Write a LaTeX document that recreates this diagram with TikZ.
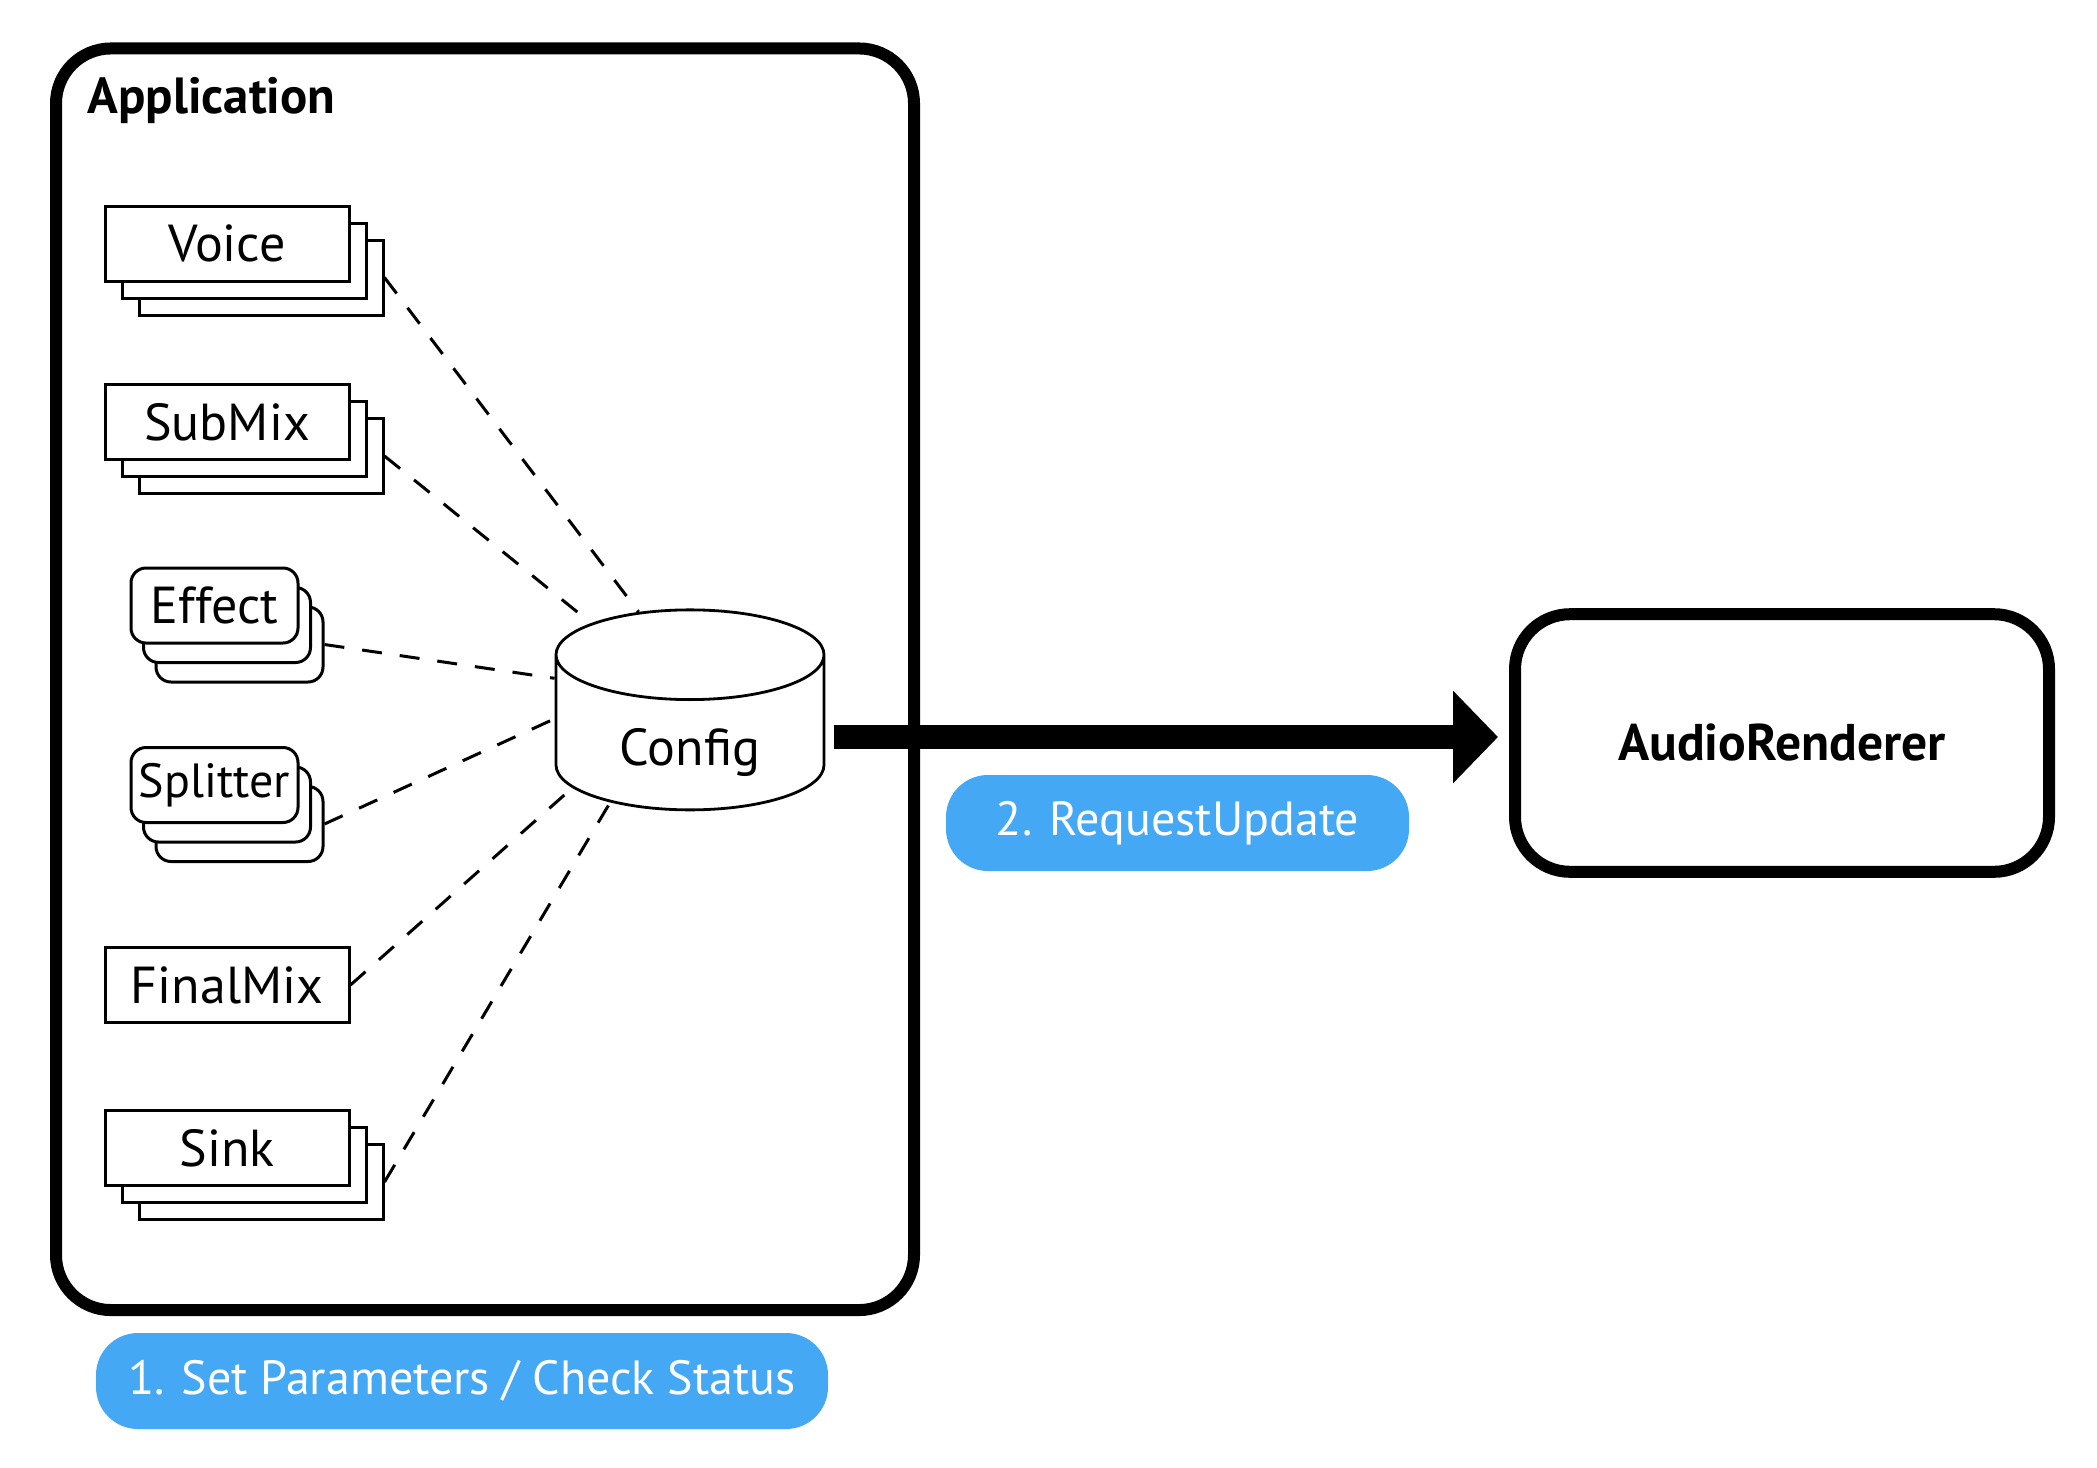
\documentclass[tikz,border=0pt]{standalone}
\usepackage{fontspec}
\setmainfont{PT Sans}
\usepackage{tikz}
\usetikzlibrary{arrows.meta,shapes.geometric}
\definecolor{pillblue}{HTML}{44A8F4}
\tikzset{
  objbox/.style={rectangle,draw,fill=white,line width=0.75pt,minimum width=61pt,minimum height=18.75pt,inner sep=0pt,font=\fontsize{13}{15}\selectfont},
  rndbox/.style={objbox,rounded corners=3.75pt,minimum width=41.75pt},
  pill/.style={rectangle,rounded corners=10.5pt,fill=pillblue,text=white,minimum height=24pt,inner sep=0pt,font=\fontsize{12}{14}\selectfont},
  link/.style={-,line width=0.75pt,dash pattern=on 5pt off 4.5pt},
  bigarrow/.style={-{Triangle[length=11.25pt,width=22.5pt]},line width=6pt},
  bigframe/.style={rectangle,draw,line width=3pt,rounded corners=13.75pt,inner sep=0pt},
}
\begin{document}
\begin{tikzpicture}[x=0.25pt,y=-0.25pt]
% \draw[help lines,step=100] (0,0) grid (2097,1467);
\useasboundingbox (0,0) rectangle (2097,1467);
\node (app) [bigframe,minimum width=214.5pt,minimum height=315.4pt] at (485,679.25) {};
\node (applbl) [anchor=base west,inner sep=0pt,font=\bfseries\fontsize{12.7}{15}\selectfont] at (87,113) {Application};
%
\node (voice3) [objbox] at (261,277.5) {};
\node (voice2) [objbox] at (244,260.5) {};
\node (voice) [objbox] at (227,243.5) {Voice};
\node (sub3) [objbox] at (261,456) {};
\node (sub2) [objbox] at (244,439) {};
\node (sub) [objbox] at (227,422) {SubMix};
\node (eff3) [rndbox] at (239.5,644.5) {};
\node (eff2) [rndbox] at (227,625) {};
\node (eff) [rndbox] at (214.5,605.5) {Effect};
\node (spl3) [rndbox] at (239.5,824) {};
\node (spl2) [rndbox] at (227,804.5) {};
\node (spl) [rndbox,font=\fontsize{12}{14}\selectfont] at (214.5,785) {Splitter};
\node (fmix) [objbox] at (227,985) {FinalMix};
\node (sink3) [objbox] at (261,1182) {};
\node (sink2) [objbox] at (244,1165) {};
\node (sink) [objbox] at (227,1148) {Sink};
%
\node (cfg) [cylinder,shape border rotate=90,aspect=0.64,draw,fill=white,line width=0.7pt,minimum width=67pt,minimum height=50pt,inner sep=0pt,text height=16pt,text depth=0pt,font=\fontsize{13}{15}\selectfont] at (690,733) {Config};
\node (aud) [bigframe,minimum width=133.5pt,minimum height=64.4pt,font=\bfseries\fontsize{12.9}{15}\selectfont] at (1782,743) {AudioRenderer};
\node (req) [pill,minimum width=115.75pt] at (1177.5,823) {2. RequestUpdate};
\node (setp) [pill,minimum width=183pt] at (462,1381) {1. Set Parameters / Check Status};
%
\draw[link] (voice3.east) -- (cfg.113);
\draw[link] (sub3.east) -- (cfg.132);
\draw[link] (eff3.east) -- (cfg.158);
\draw[link] (spl3.east) -- (cfg.174);
\draw[link] (fmix.east) -- (cfg.205);
\draw[link] (sink3.east) -- (cfg.221);
\draw[bigarrow,shorten <=2.25pt,shorten >=2.75pt] ([yshift=1.5pt]cfg.east |- aud.west) -- ([yshift=1.5pt]aud.west);
\end{tikzpicture}
\end{document}
